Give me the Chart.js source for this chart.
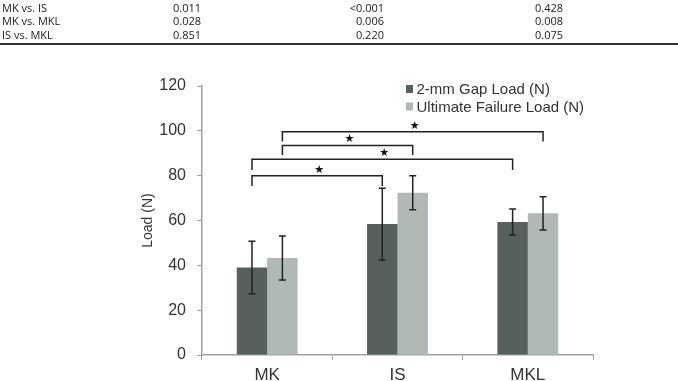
<!DOCTYPE html>
<html>
<head>
<meta charset="utf-8">
<script src="https://cdn.jsdelivr.net/npm/chart.js@4"></script>
<style>
  html, body { margin: 0; padding: 0; background: #fff; }
  #wrap { position: relative; width: 678px; height: 381px; overflow: hidden; }
  #chart { position: absolute; left: 0; top: 0; }
  .cell { position: absolute; font: 11px "Open Sans", sans-serif; color: #222; line-height: 13px; white-space: nowrap; }
  .rule { position: absolute; left: 0; top: 43px; width: 678px; height: 2px; background: #333; }
</style>
</head>
<body>
<div id="wrap">
  <canvas id="chart" width="678" height="381"></canvas>
  <div id="table"></div>
  <div class="rule"></div>
</div>
<script>
// Table rows (p-values)
const tableRows = ['MK vs. IS', 'MK vs. MKL', 'IS vs. MKL'];
const tableCol1 = ['0.011', '0.028', '0.851'];
const tableCol2 = ['<0.001', '0.006', '0.220'];
const tableCol3 = ['0.428', '0.008', '0.075'];

// Chart data
const categories = ['MK', 'IS', 'MKL'];
const seriesNames = ['2-mm Gap Load (N)', 'Ultimate Failure Load (N)'];
const gapLoad = [39.0, 58.4, 59.3];
const gapLoadErr = [11.7, 16.0, 5.8];
const failureLoad = [43.3, 72.4, 63.2];
const failureLoadErr = [9.8, 7.6, 7.4];
const yTicks = [0, 20, 40, 60, 80, 100, 120];

// Significance brackets: [datasetIndex, fromCategory, toCategory, top value, leg bottom value]
const brackets = [
  [1, 0, 2, 99.6, 95.2],
  [1, 0, 1, 93.5, 89.2],
  [0, 0, 2, 87.3, 82.5],
  [0, 0, 1, 80.0, 75.4]
];

const colors = ['#58605e', '#b1b9b6'];

// Build table
const table = document.getElementById('table');
tableRows.forEach((label, i) => {
  const top = 0.5 + i * 13.5;
  const cells = [
    { text: label, style: 'left:2px' },
    { text: tableCol1[i], style: 'left:173px' },
    { text: tableCol2[i], style: 'right:' + (678 - 384) + 'px' },
    { text: tableCol3[i], style: 'left:535px' }
  ];
  cells.forEach(c => {
    const d = document.createElement('div');
    d.className = 'cell';
    d.setAttribute('style', c.style + ';top:' + top + 'px');
    d.textContent = c.text;
    table.appendChild(d);
  });
});

// Error bars, brackets and legend
const extras = {
  id: 'extras',
  afterDatasetsDraw(chart) {
    const ctx = chart.ctx;
    const y = chart.scales.y;
    const errs = [gapLoadErr, failureLoadErr];
    const vals = [gapLoad, failureLoad];
    ctx.save();
    ctx.strokeStyle = '#222';
    ctx.lineWidth = 1.5;
    [0, 1].forEach(d => {
      chart.getDatasetMeta(d).data.forEach((bar, i) => {
        const x = bar.x;
        const hi = y.getPixelForValue(vals[d][i] + errs[d][i]);
        const lo = y.getPixelForValue(vals[d][i] - errs[d][i]);
        ctx.beginPath();
        ctx.moveTo(x, hi); ctx.lineTo(x, lo);
        ctx.moveTo(x - 3.5, hi); ctx.lineTo(x + 3.5, hi);
        ctx.moveTo(x - 3.5, lo); ctx.lineTo(x + 3.5, lo);
        ctx.stroke();
      });
    });

    // brackets
    ctx.fillStyle = '#111';
    ctx.font = '11px "DejaVu Sans"';
    ctx.textAlign = 'center';
    ctx.textBaseline = 'middle';
    brackets.forEach(b => {
      const meta = chart.getDatasetMeta(b[0]);
      const x1 = meta.data[b[1]].x;
      const x2 = meta.data[b[2]].x;
      const yt = y.getPixelForValue(b[3]);
      const yb = y.getPixelForValue(b[4]);
      ctx.beginPath();
      ctx.moveTo(x1, yb); ctx.lineTo(x1, yt); ctx.lineTo(x2, yt); ctx.lineTo(x2, yb);
      ctx.stroke();
      ctx.fillText('\u2605', (x1 + x2) / 2 + 2, yt - 6);
    });

    // legend
    ctx.font = '15px "Liberation Sans", Arial';
    ctx.textAlign = 'left';
    seriesNames.forEach((name, i) => {
      const cy = 89 + i * 17.5;
      ctx.fillStyle = colors[i];
      ctx.fillRect(406, cy - 4, 7, 8);
      ctx.fillStyle = '#333';
      ctx.fillText(name, 416.5, cy + 1);
    });
    ctx.restore();
  }
};

new Chart(document.getElementById('chart'), {
  type: 'bar',
  data: {
    labels: categories,
    datasets: [
      { label: seriesNames[0], data: gapLoad, backgroundColor: colors[0] },
      { label: seriesNames[1], data: failureLoad, backgroundColor: colors[1] }
    ]
  },
  options: {
    responsive: false,
    animation: false,
    layout: { padding: { top: 86, right: 85, left: 140, bottom: 0 } },
    datasets: { bar: { barPercentage: 1, categoryPercentage: 0.467 } },
    plugins: { legend: { display: false }, tooltip: { enabled: false } },
    scales: {
      x: {
        afterFit: s => { s.height = 26; },
        grid: { drawOnChartArea: false, tickLength: 5, color: '#a0a0a0' },
        border: { color: '#a0a0a0', width: 1.5 },
        ticks: { color: '#333', font: { family: '"Liberation Sans", Arial', size: 17 }, padding: 5 }
      },
      y: {
        min: 0,
        max: 120,
        afterFit: s => { s.width = 62; },
        afterBuildTicks: s => { s.ticks = yTicks.map(v => ({ value: v })); },
        grid: { drawOnChartArea: false, tickLength: 5, color: '#a0a0a0' },
        border: { color: '#a0a0a0', width: 1.5 },
        ticks: { color: '#333', font: { family: '"Liberation Sans", Arial', size: 16 }, padding: 11 },
        title: { display: true, text: 'Load (N)', color: '#333', padding: 0, font: { family: '"Liberation Sans", Arial', size: 14 } }
      }
    }
  },
  plugins: [extras]
});
</script>
</body>
</html>
